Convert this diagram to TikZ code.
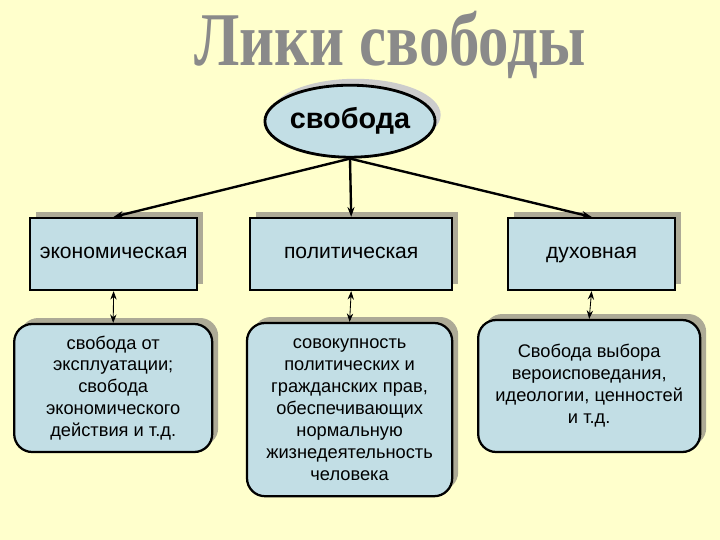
\documentclass[tikz,border=0pt]{standalone}
\usepackage{fontspec}
\setmainfont{Liberation Sans}
\newfontfamily\titlefont{Liberation Serif}
\definecolor{myblue}{HTML}{C2DEE5}
\definecolor{mybg}{HTML}{FFFFCC}
\definecolor{myshadow}{HTML}{ADAA96}
\definecolor{mytitle}{HTML}{8A8A8A}
\usetikzlibrary{positioning, shapes.geometric, shadows, arrows.meta}
\tikzset{
	freenode/.style={
			ellipse,
			draw=black,
			line width=2pt,
			fill=myblue,
			minimum width=4.25cm,
			minimum height=1.8cm,
			inner sep=0pt,
			font=\fontsize{20.5}{24}\selectfont\bfseries,
			drop shadow={shadow xshift=.14cm, shadow yshift=.16cm, fill=gray!40, opacity=1}
		},
	kindnode/.style={
			rectangle,
			draw=black,
			line width=1.6pt,
			fill=myblue,
			minimum height=1.8cm,
			inner sep=0pt,
			text height=1.6ex,
			text depth=.4ex,
			font=\fontsize{15}{18}\selectfont,
			drop shadow={shadow xshift=.15cm, shadow yshift=.15cm, fill=myshadow, opacity=1}
		},
	descnode/.style={
			kindnode,
			text height=,
			text depth=,
			rounded corners=.45cm,
			align=center,
			font=\fontsize{13}{15.6}\selectfont
		}
}

\begin{document}
\begin{tikzpicture}[>={Stealth[length=7pt,width=5pt]}]
    \useasboundingbox (0,0) rectangle (18,-13.5);
    \fill[mybg] (0,0) rectangle (18,-13.5);

    \node[font=\titlefont\bfseries\fontsize{54}{58}\selectfont, text=mytitle, xscale=0.8] (title) at (9.75,-1.12) {Лики свободы};

    \node[freenode] (free) at (8.75,-3.03) {свобода};

    \node[kindnode, minimum width=4.18cm] (eco) at (2.84,-6.35) {экономическая};
    \node[kindnode, minimum width=5.05cm] (pol) at (8.78,-6.35) {политическая};
    \node[kindnode, minimum width=4.18cm] (spi) at (14.79,-6.35) {духовная};

    \node[descnode, minimum width=4.95cm, minimum height=3.2cm] (ecotxt) at (2.83,-9.7)
        {свобода от\\эксплуатации;\\свобода\\экономического\\действия и т.д.};
    \node[descnode, minimum width=5.13cm, minimum height=4.33cm] (poltxt) at (8.74,-10.24)
        {совокупность\\политических и\\гражданских прав,\\обеспечивающих\\нормальную\\жизнедеятельность\\человека};
    \node[descnode, minimum width=5.55cm, minimum height=3.3cm] (spitxt) at (14.73,-9.65)
        {Свобода выбора\\вероисповедания,\\идеологии, ценностей\\и т.д.};

    \draw[line width=1.7pt, ->] (free.south) -- (eco.north);
    \draw[line width=1.7pt, ->] (free.south) -- (pol.north);
    \draw[line width=1.7pt, ->] (free.south) -- (spi.north);

    \draw[semithick, <->, >={Stealth[length=6pt,width=4.5pt]}] (eco.south) -- (ecotxt.north);
    \draw[semithick, <->, >={Stealth[length=6pt,width=4.5pt]}] (pol.south) -- (poltxt.north);
    \draw[semithick, <->, >={Stealth[length=6pt,width=4.5pt]}] (spi.south) -- (spitxt.north);
\end{tikzpicture}
\end{document}
